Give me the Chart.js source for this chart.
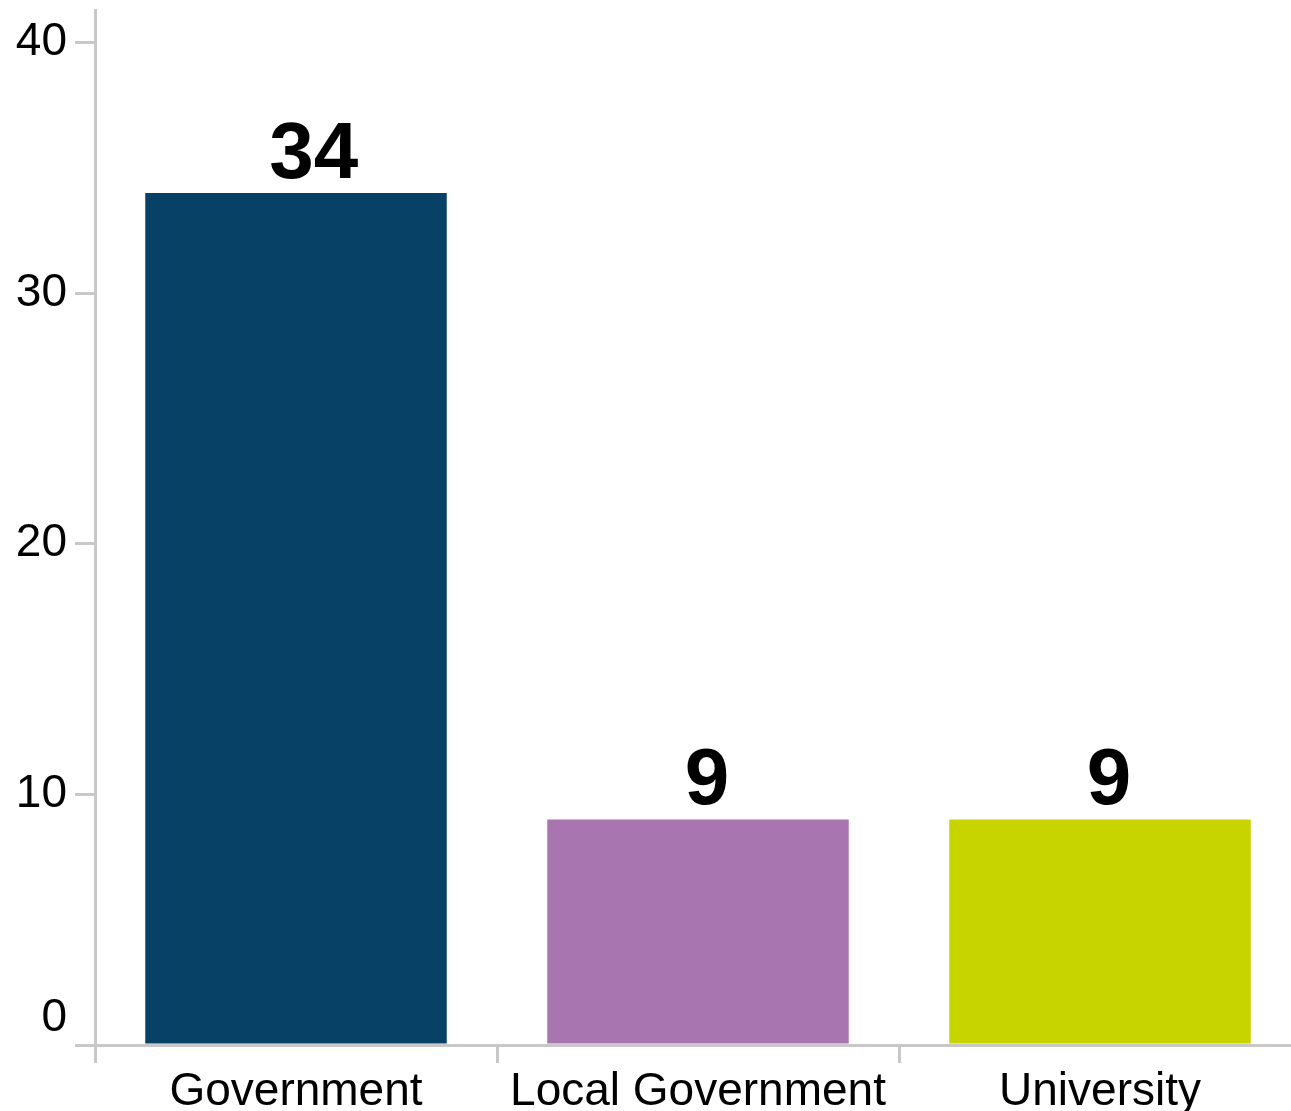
<!DOCTYPE html>
<html>
<head>
<meta charset="utf-8">
<script src="https://cdn.jsdelivr.net/npm/chart.js@4"></script>
<style>
    html, body { margin: 0; padding: 0; background: #fff; overflow: hidden; }
    #wrap { width: 1320px; height: 1111px; }
</style>
</head>
<body>
<div id="wrap"><canvas id="barChart" width="1320" height="1111"></canvas></div>
<script>
// Chart data
const categories = ['Government', 'Local Government', 'University'];
const counts = [34, 9, 9];
const barColors = ['#084166', '#a875b0', '#c8d400'];
const yTicks = [0, 10, 20, 30, 40];

const axisGray = '#c8c8c8';
const fontFamily = '"Liberation Sans", Arial, sans-serif';

// value labels above each bar (sit slightly right of centre, as in the original)
const valueLabels = {
    id: 'valueLabels',
    afterDatasetsDraw(chart) {
        const ctx = chart.ctx;
        const meta = chart.getDatasetMeta(0);
        ctx.save();
        ctx.font = 'bold 80px ' + fontFamily;
        ctx.fillStyle = '#000';
        ctx.textAlign = 'center';
        ctx.textBaseline = 'alphabetic';
        meta.data.forEach((bar, i) => {
            const txt = String(counts[i]);
            const w = ctx.measureText(txt).width;
            ctx.fillText(txt, bar.x + w * 0.2, bar.y - 15);
        });
        ctx.restore();
    }
};

// the zero label sits a little above its tick
const zeroLabel = {
    id: 'zeroLabel',
    afterDraw(chart) {
        const y = chart.scales.y;
        const ctx = chart.ctx;
        ctx.save();
        ctx.font = '46px ' + fontFamily;
        ctx.fillStyle = '#000';
        ctx.textAlign = 'right';
        ctx.textBaseline = 'middle';
        ctx.fillText('0', y.right - 28, y.getPixelForValue(0) - 27);
        ctx.restore();
    }
};

new Chart(document.getElementById('barChart').getContext('2d'), {
    type: 'bar',
    data: {
        labels: categories,
        datasets: [{
            data: counts,
            backgroundColor: barColors,
            borderWidth: 0,
            categoryPercentage: 1,
            barPercentage: 0.75
        }]
    },
    options: {
        responsive: false,
        animation: false,
        devicePixelRatio: 1,
        layout: { padding: { top: 10, right: 19, left: 0, bottom: 0 } },
        plugins: {
            legend: { display: false },
            tooltip: { enabled: false }
        },
        scales: {
            x: {
                offset: true,
                grid: {
                    offset: true,
                    drawOnChartArea: false,
                    drawTicks: true,
                    tickLength: 18,
                    color: axisGray,
                    lineWidth: 3
                },
                border: { display: true, color: axisGray, width: 3 },
                ticks: {
                    color: '#000',
                    font: { family: fontFamily, size: 46 },
                    padding: 2,
                    maxRotation: 0,
                    autoSkip: false
                },
                afterFit(scale) {
                    scale.height = 66;
                    scale.paddingLeft = 0;
                    scale.paddingRight = 0;
                }
            },
            y: {
                min: 0,
                max: 41.3,
                afterBuildTicks(scale) {
                    scale.ticks = yTicks.map(v => ({ value: v }));
                },
                grid: {
                    drawOnChartArea: false,
                    drawTicks: true,
                    tickLength: 20,
                    color: axisGray,
                    lineWidth: 3
                },
                border: { display: true, color: axisGray, width: 3 },
                ticks: {
                    color: '#000',
                    font: { family: fontFamily, size: 46 },
                    padding: 8,
                    callback: v => (v === 0 ? '' : String(v))
                },
                afterFit(scale) {
                    scale.width = 95;
                    scale.paddingTop = 0;
                    scale.paddingBottom = 0;
                }
            }
        }
    },
    plugins: [valueLabels, zeroLabel]
});
</script>
</body>
</html>
